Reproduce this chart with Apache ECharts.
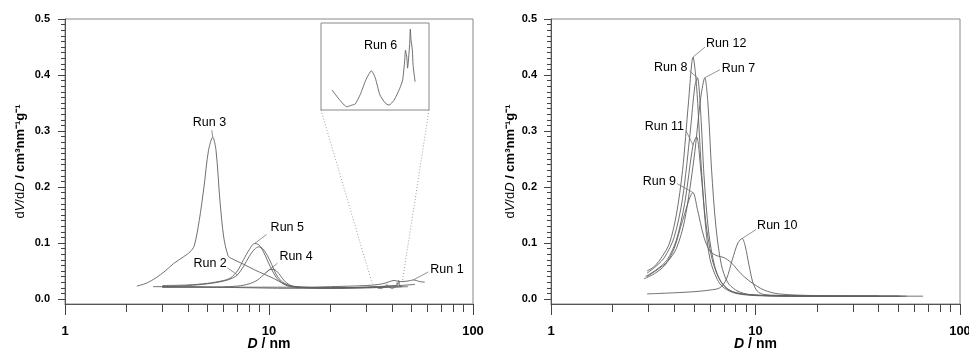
<!DOCTYPE html>
<html>
<head>
<meta charset="utf-8">
<script src="https://cdn.jsdelivr.net/npm/echarts@6/dist/echarts.min.js"></script>
<style>
html, body { margin: 0; padding: 0; background: #fff; }
#main { width: 969px; height: 351px; }
</style>
</head>
<body>
<div id="main"></div>
<script>
// axis ticks
var xTicks = [1, 10, 100];
var xMinorTicks = [2, 3, 4, 5, 6, 7, 8, 9, 20, 30, 40, 50, 60, 70, 80, 90];
var yTicks = [0, 0.1, 0.2, 0.3, 0.4, 0.5];
var yMinorTicks = [];
for (var k = 1; k < 50; k++) { if (k % 10) yMinorTicks.push(k / 100); }

// left panel, [D nm, dV/dD]
var run1 = [[2.7,0.022],[4,0.022],[6,0.021],[10,0.021],[15,0.021],[20,0.022],[30,0.024],[36,0.027],[39,0.031],[41,0.033],[44,0.031],[48,0.032],[51,0.034],[55,0.031],[58,0.030]];
var run2 = [[3.0,0.022],[4,0.024],[5,0.027],[6,0.032],[6.6,0.037],[7.0,0.043],[7.5,0.058],[8,0.076],[8.5,0.089],[8.9,0.093],[9.3,0.09],[9.8,0.078],[10.3,0.062],[10.8,0.045],[11.5,0.032],[12.5,0.024],[14,0.021],[20,0.02],[30,0.021],[40,0.023],[52,0.026]];
var run3 = [[2.25,0.023],[2.5,0.028],[2.8,0.038],[3.1,0.05],[3.4,0.063],[3.8,0.075],[4.1,0.084],[4.3,0.095],[4.55,0.14],[4.8,0.2],[5.05,0.265],[5.3,0.289],[5.5,0.265],[5.75,0.175],[6.0,0.11],[6.3,0.077],[6.5,0.073],[7.5,0.062],[8.5,0.052],[9.5,0.044],[10.5,0.037],[11.7,0.028],[13,0.023],[15,0.021],[20,0.02],[30,0.021],[42,0.024]];
var run4 = [[3.0,0.021],[5,0.021],[7,0.023],[8,0.027],[8.8,0.034],[9.6,0.046],[10.2,0.053],[10.7,0.052],[11.3,0.043],[12,0.031],[13,0.023],[15,0.02],[20,0.019],[30,0.02],[48,0.022]];
var run5 = [[3.0,0.024],[4,0.025],[5,0.028],[6,0.033],[6.5,0.038],[7,0.05],[7.5,0.07],[8,0.088],[8.5,0.099],[8.9,0.097],[9.4,0.084],[9.9,0.066],[10.4,0.05],[11,0.036],[12,0.025],[13.5,0.021],[20,0.02],[30,0.02],[45,0.022]];
var run6 = [[3.0,0.021],[5,0.021],[8,0.02],[12,0.019],[20,0.019],[28,0.02],[31,0.021],[33.2,0.0217],[34.1,0.0198],[34.9,0.0186],[35.5,0.0189],[35.9,0.0191],[36.5,0.0208],[37.2,0.0235],[37.9,0.0252],[38.4,0.0239],[39.0,0.0208],[39.7,0.0193],[40.2,0.0189],[40.9,0.0198],[41.7,0.022],[42.1,0.0235],[42.4,0.0272],[42.5,0.029],[42.7,0.0276],[42.8,0.0257],[43.1,0.030],[43.2,0.0329],[43.3,0.0309],[43.5,0.029],[43.6,0.0263],[43.9,0.0232]];

// right panel
var run7 = [[2.95,0.04],[3.3,0.052],[3.7,0.066],[4.1,0.09],[4.5,0.14],[5.0,0.25],[5.4,0.36],[5.65,0.395],[5.85,0.35],[6.1,0.23],[6.4,0.13],[6.8,0.062],[7.3,0.03],[8,0.016],[9,0.009],[11,0.006],[20,0.005],[40,0.005],[55,0.005]];
var run8 = [[2.95,0.046],[3.3,0.06],[3.6,0.075],[4.0,0.11],[4.4,0.18],[4.8,0.3],[5.05,0.38],[5.2,0.395],[5.4,0.33],[5.6,0.22],[5.9,0.12],[6.3,0.06],[6.8,0.03],[7.5,0.015],[9,0.008],[12,0.006],[20,0.005],[40,0.005]];
var run9 = [[2.85,0.036],[3.2,0.045],[3.6,0.06],[4.0,0.09],[4.4,0.14],[4.95,0.19],[5.2,0.16],[5.6,0.11],[6.0,0.085],[6.5,0.077],[7.0,0.074],[7.6,0.065],[8.5,0.045],[9.5,0.03],[11,0.016],[13,0.009],[20,0.006],[52,0.005]];
var run10 = [[2.95,0.009],[4,0.011],[5,0.013],[6,0.016],[6.7,0.02],[7.2,0.035],[7.7,0.07],[8.2,0.1],[8.6,0.108],[8.9,0.095],[9.3,0.06],[9.7,0.03],[10.2,0.014],[11,0.008],[15,0.006],[30,0.005],[66,0.005]];
var run11 = [[2.9,0.04],[3.3,0.053],[3.7,0.07],[4.1,0.105],[4.5,0.17],[4.95,0.275],[5.15,0.29],[5.4,0.23],[5.7,0.14],[6.1,0.075],[6.6,0.038],[7.2,0.02],[8,0.011],[10,0.007],[15,0.005],[40,0.005]];
var run12 = [[2.95,0.05],[3.2,0.058],[3.5,0.076],[3.8,0.1],[4.1,0.15],[4.4,0.23],[4.7,0.35],[4.95,0.432],[5.15,0.38],[5.4,0.25],[5.7,0.13],[6.0,0.07],[6.5,0.035],[7.0,0.02],[8,0.01],[10,0.006],[15,0.005],[30,0.005],[50,0.005]];

// where the zoom box's dotted lines end on the main curve
var insetLinks = [[32, 0.028], [45, 0.030]];

var FONT = '"Liberation Sans", Arial, sans-serif';

function pt(arr, x) {
    for (var i = 0; i < arr.length; i++) if (arr[i][0] === x) return arr[i];
    return arr[0];
}

var myChart = echarts.init(document.getElementById('main'));

function xAxes(g) {
    return [{
        type: 'log', logBase: 10, gridIndex: g, min: 1, max: 100, position: 'bottom',
        axisLine: { onZero: false, lineStyle: { color: '#555', width: 1 } },
        axisTick: { length: 8, customValues: xMinorTicks, lineStyle: { color: '#444' } },
        axisLabel: { customValues: xTicks, margin: 21, color: '#000', fontWeight: 'bold', fontSize: 13, fontFamily: FONT },
        splitLine: { show: false },
        name: '{i|D}{b| / nm}', nameLocation: 'middle', nameGap: 33, nameMoveOverlap: false,
        nameTextStyle: {
            rich: {
                i: { fontStyle: 'italic', fontWeight: 'bold', fontSize: 14, fontFamily: FONT, color: '#000' },
                b: { fontWeight: 'bold', fontSize: 14, fontFamily: FONT, color: '#000' }
            }
        }
    }, {
        type: 'log', logBase: 10, gridIndex: g, min: 1, max: 100, position: 'bottom',
        axisLine: { show: false, onZero: false },
        axisTick: { length: 11, customValues: xTicks, lineStyle: { color: '#444' } },
        axisLabel: { show: false },
        splitLine: { show: false }
    }];
}

function yAxes(g, gap, margin) {
    return [{
        type: 'value', gridIndex: g, min: -0.009, max: 0.5, position: 'left',
        axisLine: { onZero: false, lineStyle: { color: '#555', width: 1 } },
        axisTick: { length: 7, customValues: yTicks, lineStyle: { color: '#444' } },
        axisLabel: {
            customValues: yTicks, margin: margin, color: '#000', fontWeight: 'bold', fontSize: 11, fontFamily: FONT,
            formatter: function (v) { return v.toFixed(1); }
        },
        splitLine: { show: false },
        name: '{n|d}{ni|V}{n|/d}{ni|D}{b| / cm³nm⁻¹g⁻¹}',
        nameLocation: 'middle', nameRotate: 90, nameGap: gap, nameMoveOverlap: false,
        nameTextStyle: {
            rich: {
                n: { fontSize: 13, fontFamily: FONT, color: '#000' },
                ni: { fontSize: 13, fontStyle: 'italic', fontFamily: FONT, color: '#000' },
                b: { fontSize: 13, fontWeight: 'bold', fontFamily: FONT, color: '#000' }
            }
        }
    }, {
        type: 'value', gridIndex: g, min: -0.009, max: 0.5, position: 'left',
        axisLine: { show: false, onZero: false },
        axisTick: { length: 4, customValues: yMinorTicks, lineStyle: { color: '#444' } },
        axisLabel: { show: false },
        splitLine: { show: false }
    }];
}

function run(name, data, xi, yi, smooth) {
    return {
        name: name, type: 'line', data: data, xAxisIndex: xi, yAxisIndex: yi,
        showSymbol: false, symbol: 'none', smooth: smooth, silent: true,
        lineStyle: { color: '#606060', width: 0.9 }
    };
}

option = {
    animation: false,
    backgroundColor: '#fff',
    grid: [
        { left: 65, top: 19, width: 408, height: 285, show: true, borderColor: '#888', borderWidth: 1, outerBoundsMode: 'none', containLabel: false },
        { left: 551, top: 19, width: 409, height: 285, show: true, borderColor: '#888', borderWidth: 1, outerBoundsMode: 'none', containLabel: false },
        { left: 321, top: 23, width: 108, height: 87, show: true, borderColor: '#888', borderWidth: 1, outerBoundsMode: 'none', containLabel: false }  // Run 6 zoom
    ],
    xAxis: xAxes(0).concat(xAxes(1)).concat([
        { type: 'log', logBase: 10, gridIndex: 2, min: 32, max: 46, show: false }
    ]),
    yAxis: yAxes(0, 38, 15).concat(yAxes(1, 34, 14)).concat([
        { type: 'value', gridIndex: 2, min: 0.018, max: 0.034, show: false }
    ]),
    series: [
        run('Run 1', run1, 0, 0, 0.3),
        run('Run 2', run2, 0, 0, 0.3),
        run('Run 3', run3, 0, 0, 0.3),
        run('Run 4', run4, 0, 0, 0.3),
        run('Run 5', run5, 0, 0, 0.3),
        run('Run 6', run6, 0, 0, 0.2),
        run('Run 6 zoom', run6.filter(function (d) { return d[0] >= 33; }), 4, 4, 0.2),
        run('Run 7', run7, 2, 2, 0.3),
        run('Run 8', run8, 2, 2, 0.3),
        run('Run 9', run9, 2, 2, 0.3),
        run('Run 10', run10, 2, 2, 0.3),
        run('Run 11', run11, 2, 2, 0.3),
        run('Run 12', run12, 2, 2, 0.3)
    ]
};
myChart.setOption(option);

// labels with leader lines: dx/dy text offset, lx/ly leader end, from the anchor point
var labels = [
    { text: 'Run 3', g: 0, at: pt(run3, 5.3), dx: -20, dy: -15, lx: -1, ly: -7 },
    { text: 'Run 5', g: 0, at: pt(run5, 8.5), dx: 16, dy: -16, lx: 12, ly: -9 },
    { text: 'Run 2', g: 0, at: pt(run2, 7.0), dx: -44, dy: -11, lx: -10, ly: -7 },
    { text: 'Run 4', g: 0, at: pt(run4, 9.6), dx: 14, dy: -17, lx: 12, ly: -10 },
    { text: 'Run 1', g: 0, at: pt(run1, 51), dx: 17, dy: -10, lx: 15, ly: -8 },
    { text: 'Run 6', g: 2, at: pt(run6, 43.2), dx: -13, dy: 17, align: 'right' },
    { text: 'Run 12', g: 1, at: pt(run12, 4.95), dx: 13, dy: -14, lx: 12, ly: -10 },
    { text: 'Run 8', g: 1, at: pt(run8, 5.2), dx: -10, dy: -10, lx: -8, ly: -7, align: 'right' },
    { text: 'Run 7', g: 1, at: pt(run7, 5.65), dx: 17, dy: -9, lx: 15, ly: -8 },
    { text: 'Run 11', g: 1, at: pt(run11, 4.95), dx: -9, dy: -18, lx: -7, ly: -14, align: 'right' },
    { text: 'Run 9', g: 1, at: pt(run9, 4.95), dx: -17, dy: -11, lx: -16, ly: -9, align: 'right' },
    { text: 'Run 10', g: 1, at: pt(run10, 8.6), dx: 15, dy: -13, lx: 14, ly: -9 }
];

var graphics = [];
labels.forEach(function (l) {
    var p = myChart.convertToPixel({ gridIndex: l.g }, l.at);
    if (l.lx !== undefined) {
        graphics.push({
            type: 'line', silent: true,
            shape: { x1: p[0], y1: p[1], x2: p[0] + l.lx, y2: p[1] + l.ly },
            style: { stroke: '#777', lineWidth: 0.8 }
        });
    }
    graphics.push({
        type: 'text', silent: true,
        style: {
            text: l.text, x: p[0] + l.dx, y: p[1] + l.dy,
            font: '12.5px ' + FONT, fill: '#000',
            textAlign: l.align || 'left', textVerticalAlign: 'middle'
        }
    });
});

// dotted lines from the zoom box to the main curve
var c0 = myChart.convertToPixel({ gridIndex: 2 }, [32, 0.018]);
var c1 = myChart.convertToPixel({ gridIndex: 2 }, [46, 0.018]);
var e0 = myChart.convertToPixel({ gridIndex: 0 }, insetLinks[0]);
var e1 = myChart.convertToPixel({ gridIndex: 0 }, insetLinks[1]);
[[c0, e0], [c1, e1]].forEach(function (s) {
    graphics.push({
        type: 'line', silent: true,
        shape: { x1: s[0][0], y1: s[0][1], x2: s[1][0], y2: s[1][1] },
        style: { stroke: '#888', lineWidth: 0.8, lineDash: [1, 2] }
    });
});

myChart.setOption({ graphic: graphics });
</script>
</body>
</html>
